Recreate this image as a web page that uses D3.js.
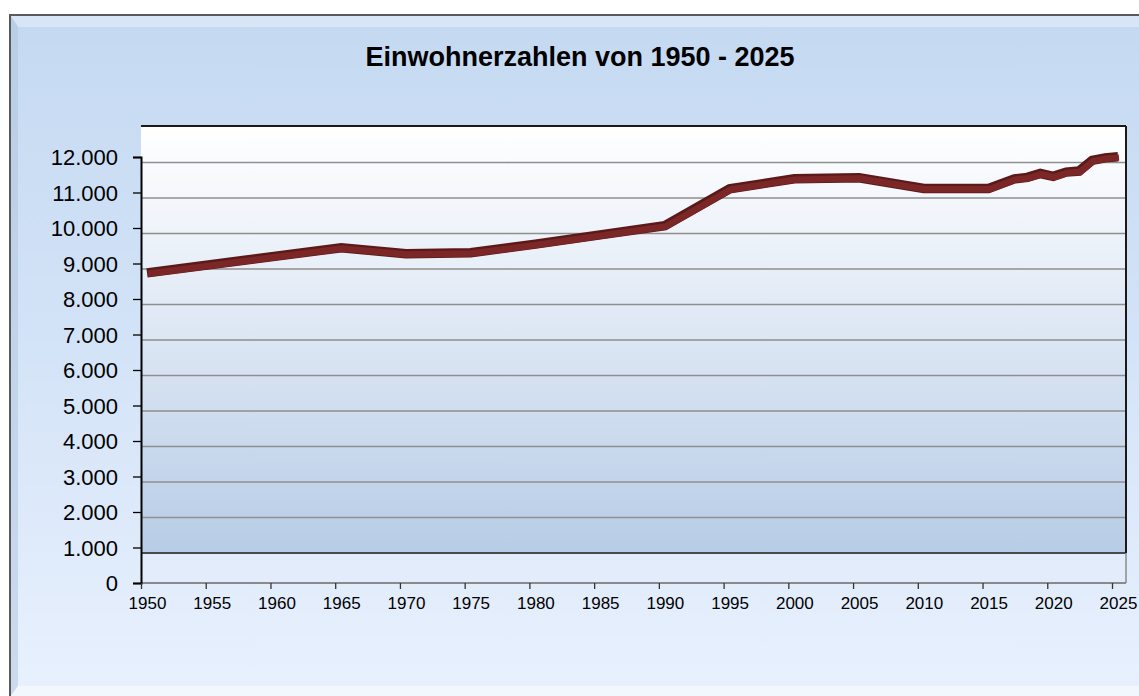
<!DOCTYPE html>
<html>
  <head>
    <meta charset="utf-8" />
    <title>Einwohnerzahlen von 1950 - 2025</title>
    <script src="https://d3js.org/d3.v7.min.js"></script>
    <style>
      body { margin: 0; background: #ffffff; }
      text { font-family: "Liberation Sans", Arial, sans-serif; }
    </style>
  </head>
  <body>
    <svg width="1139" height="696"></svg>

    <script>
      // data
      const years = [1950, 1965, 1970, 1975, 1980, 1985, 1990, 1995, 2000, 2005, 2010, 2015,
                     2017, 2018, 2019, 2020, 2021, 2022, 2023, 2024, 2025];
      const population = [8890, 9600, 9430, 9460, 9700, 9960, 10220, 11260, 11540, 11570, 11270, 11270,
                          11540, 11580, 11690, 11610, 11730, 11760, 12060, 12130, 12160];
      const yTicks = [0, 1000, 2000, 3000, 4000, 5000, 6000, 7000, 8000, 9000, 10000, 11000, 12000];
      const xTicks = d3.range(1950, 2026, 5);
      const title = "Einwohnerzahlen von 1950 - 2025";

      const svg = d3.select("svg");
      const defs = svg.append("defs");

      // 3d depth offset of the back wall
      const dx = 6, dy = 5.5;
      const plotLeft = 141, plotRight = 1126, plotTop = 126, plotBottom = 583;

      const x = d3.scaleLinear().domain([1950, 2025]).range([plotLeft, 1112]);
      const y = d3.scaleLinear().domain([0, 12000]).range([plotBottom, 157]);
      const de = d3.formatLocale({ decimal: ",", thousands: ".", grouping: [3], currency: ["", " €"] });
      const fmt = de.format(",d");

      // gradients
      const bg = defs.append("linearGradient").attr("id", "bg").attr("x1", 0).attr("y1", 0).attr("x2", 0).attr("y2", 1);
      bg.append("stop").attr("offset", "0%").attr("stop-color", "#c4d9f1");
      bg.append("stop").attr("offset", "55%").attr("stop-color", "#d6e5f8");
      bg.append("stop").attr("offset", "100%").attr("stop-color", "#e9f1fe");

      const wall = defs.append("linearGradient").attr("id", "wall").attr("x1", 0).attr("y1", 0).attr("x2", 0).attr("y2", 1);
      wall.append("stop").attr("offset", "0%").attr("stop-color", "#ffffff");
      wall.append("stop").attr("offset", "25%").attr("stop-color", "#eef3fa");
      wall.append("stop").attr("offset", "100%").attr("stop-color", "#b7cce6");

      // outer frame
      svg.append("rect").attr("x", 10).attr("y", 15).attr("width", 1140).attr("height", 690)
        .attr("fill", "url(#bg)").attr("stroke", "#5a5a5a").attr("stroke-width", 2);
      // bevel
      svg.append("polygon").attr("points", "11,16 1150,16 1150,27 18,27").attr("fill", "#dce9f8").attr("opacity", 0.8);
      svg.append("polygon").attr("points", "11,16 18,27 18,686 11,696").attr("fill", "#a9c0dc").attr("opacity", 0.45);
      svg.append("polygon").attr("points", "11,696 18,686 1150,686 1150,696").attr("fill", "#f3f7fd").attr("opacity", 0.9);

      // title
      svg.append("text").attr("x", 580).attr("y", 66).attr("text-anchor", "middle")
        .style("font-size", "27px").style("font-weight", "bold").attr("fill", "#000")
        .text(title);

      // back wall and floor
      const wallBottom = y(1000) + dy;
      svg.append("rect").attr("x", plotLeft).attr("y", plotTop).attr("width", plotRight - plotLeft).attr("height", wallBottom - plotTop)
        .attr("fill", "url(#wall)");
      svg.append("rect").attr("x", plotLeft).attr("y", wallBottom).attr("width", plotRight - plotLeft).attr("height", plotBottom - wallBottom)
        .attr("fill", "#e2ecfa");

      // gridlines on the wall
      svg.append("g").selectAll("line").data(yTicks.filter(d => d >= 2000)).join("line")
        .attr("x1", plotLeft).attr("x2", plotRight)
        .attr("y1", d => y(d) + dy).attr("y2", d => y(d) + dy)
        .attr("stroke", "#8f8f8f").attr("stroke-width", 1.6);
      svg.append("line").attr("x1", plotLeft).attr("x2", plotRight)
        .attr("y1", wallBottom).attr("y2", wallBottom)
        .attr("stroke", "#4a4a4a").attr("stroke-width", 2.2);

      // borders
      svg.append("line").attr("x1", plotLeft).attr("x2", plotRight).attr("y1", plotTop).attr("y2", plotTop)
        .attr("stroke", "#1a1a1a").attr("stroke-width", 2);
      svg.append("line").attr("x1", plotRight).attr("x2", plotRight).attr("y1", plotTop).attr("y2", wallBottom)
        .attr("stroke", "#1a1a1a").attr("stroke-width", 2);
      svg.append("line").attr("x1", plotRight).attr("x2", plotRight).attr("y1", wallBottom).attr("y2", plotBottom)
        .attr("stroke", "#8a8a8a").attr("stroke-width", 1.5);
      svg.append("line").attr("x1", plotLeft).attr("x2", plotRight).attr("y1", plotBottom).attr("y2", plotBottom)
        .attr("stroke", "#8a8a8a").attr("stroke-width", 2);

      // y axis
      const yAxis = d3.axisLeft(y).tickValues(yTicks).tickFormat(fmt).tickSize(8).tickPadding(15);
      const gy = svg.append("g").attr("transform", `translate(${plotLeft},0)`).call(yAxis);
      gy.select(".domain").attr("stroke", "#000").attr("stroke-width", 2);
      gy.selectAll(".tick line").attr("stroke", "#000").attr("stroke-width", 1.3);
      gy.selectAll(".tick text").style("font-size", "22px").style("font-family", "Liberation Sans, Arial, sans-serif")
        .attr("fill", "#000").attr("dy", "0.36em");

      // x axis
      const xAxis = d3.axisBottom(x).tickValues(xTicks).tickFormat(d3.format("d")).tickSize(6).tickPadding(8);
      const gx = svg.append("g").attr("transform", `translate(0,${plotBottom})`).call(xAxis);
      gx.select(".domain").remove();
      gx.selectAll(".tick line").attr("stroke", "#333").attr("stroke-width", 1.3);
      gx.selectAll(".tick text").style("font-size", "17px").style("font-family", "Liberation Sans, Arial, sans-serif")
        .attr("fill", "#000").attr("x", dx);

      // the population ribbon
      const pts = years.map((yr, i) => [yr, population[i]]);
      const line = d3.line().x(d => x(d[0]) + dx).y(d => y(d[1]) + dy);
      svg.append("path").datum(pts).attr("d", line)
        .attr("fill", "none").attr("stroke", "#5c1919").attr("stroke-width", 9.5)
        .attr("stroke-linejoin", "miter").attr("stroke-linecap", "butt");
      svg.append("path").datum(pts).attr("d", line).attr("transform", "translate(1,0.8)")
        .attr("fill", "none").attr("stroke", "#7c2727").attr("stroke-width", 6.5)
        .attr("stroke-linejoin", "miter").attr("stroke-linecap", "butt");
    </script>
  </body>
</html>
